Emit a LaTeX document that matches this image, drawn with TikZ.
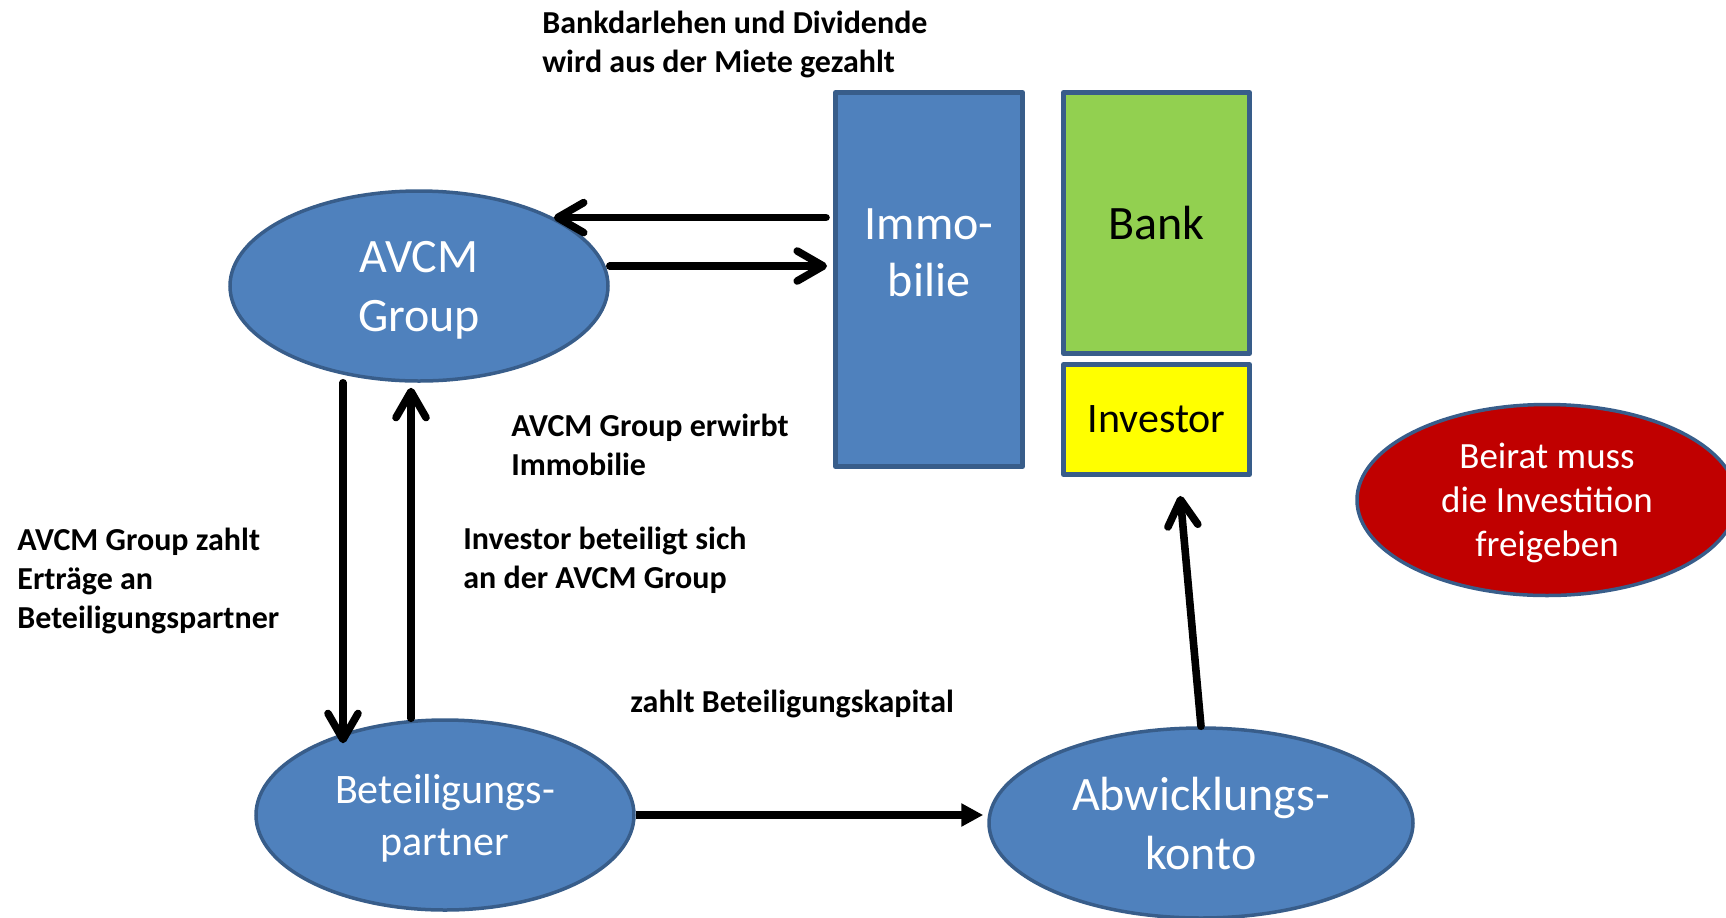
\documentclass[tikz,border=0pt]{standalone}
\usepackage{fontspec}
\setmainfont{Carlito}
\usetikzlibrary{calc,arrows.meta,positioning,shapes.geometric}
\tikzset{
    %Define standard arrow tip
    >={Straight Barb[length=13pt, width=15pt, round]},
    blob/.style={ellipse, draw=edgeblue, line width=1.75pt, fill=nodeblue, text=white, align=center, inner sep=0pt, text depth=0pt, font=\fontsize{24}{29.5}\selectfont},
    block/.style={rectangle, draw=edgeblue, line width=2.5pt, line join=round, align=center, inner sep=0pt, minimum width=93pt},
    note/.style={anchor=west, inner sep=0pt, align=left, font=\bfseries\fontsize{16}{19.5}\selectfont},
    flow/.style={->, line width=3.8pt, line cap=round}
}
\definecolor{nodeblue}{RGB}{79,129,189}
\definecolor{edgeblue}{RGB}{56,93,138}
\definecolor{bankgreen}{RGB}{146,208,80}
\definecolor{investyellow}{RGB}{255,255,0}
\definecolor{beiratred}{RGB}{192,0,0}

\begin{document}
\begin{tikzpicture}[x=0.5pt, y=-0.5pt]

	\useasboundingbox (0, 0) rectangle (1726, 917);

	\node (avcm) at (419, 286) [blob, minimum width=189pt, minimum height=95pt] {AVCM\\Group};
	\node (partner) at (445, 815) [blob, minimum width=189pt, minimum height=95pt, font=\fontsize{21}{26}\selectfont] {Beteiligungs-\\partner};
	\node (konto) at (1201, 823) [blob, minimum width=212pt, minimum height=95pt] {Abwicklungs-\\konto};
	\node (beirat) at (1547, 500) [blob, fill=beiratred, minimum width=190pt, minimum height=95.5pt, font=\fontsize{18.5}{22}\selectfont] {Beirat muss\\die Investition\\freigeben};

	\node (immo) at (929, 279.5) [block, fill=nodeblue, minimum width=93.5pt, minimum height=187pt] {};
	\node (immotext) at (929, 253) [text=white, align=center, font=\fontsize{24}{28.5}\selectfont] {Immo-\\bilie};
	\node (bank) at (1156.5, 223) [block, fill=bankgreen, minimum height=130.5pt, font=\fontsize{24}{29}\selectfont] {Bank};
	\node (invest) at (1156.5, 419.5) [block, fill=investyellow, minimum height=55pt, font=\fontsize{21}{26}\selectfont] {Investor};

	\node (miete) at (542, 44) [note] {Bankdarlehen und Dividende\\wird aus der Miete gezahlt};
	\node (erwirbt) at (511, 445) [note] {AVCM Group erwirbt\\Immobilie};
	\node (ertraege) at (17, 581) [note] {AVCM Group zahlt\\Ertr\"age an\\Beteiligungspartner};
	\node (beteiligt) at (463, 560) [note] {Investor beteiligt sich\\an der AVCM Group};
	\node (kapital) at (630, 704) [note] {zahlt Beteiligungskapital};

	\draw[flow, shorten <=3.5pt] (immo.west |- avcm.north east) -- (avcm.north east);
	\draw[flow, shorten >=3pt] ([yshift=10pt]avcm.east) -- ([yshift=10pt]avcm.east -| immo.west);
	\draw[flow, shorten >=-12.5pt] ([xshift=-38pt]avcm.south) -- ([xshift=-38pt]avcm.south |- partner.north);
	\draw[flow, shorten >=2.5pt] ([xshift=-17pt]partner.north) -- ([xshift=-17pt]partner.north |- avcm.south);
	\draw[line width=3.8pt, -{Triangle[length=11pt, width=11pt]}, shorten >=2pt] (partner.east) -- (partner.east -| konto.west);
	\draw[flow, shorten >=9.5pt] (konto.north) -- ([xshift=11pt]invest.south);

\end{tikzpicture}
\end{document}
